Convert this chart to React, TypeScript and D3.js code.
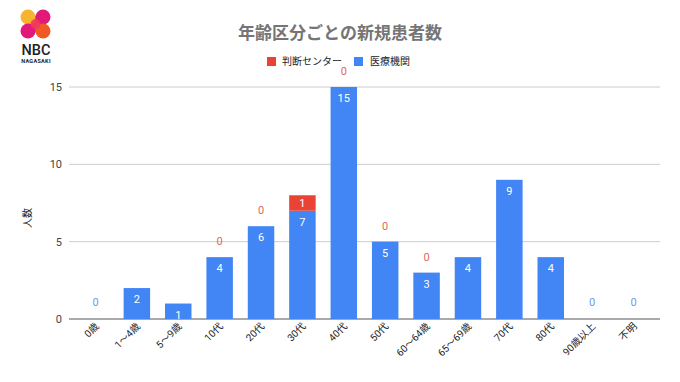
import React from "react";
import * as d3 from "d3";

const categories = ["0歳", "1〜4歳", "5〜9歳", "10代", "20代", "30代", "40代", "50代", "60〜64歳", "65〜69歳", "70代", "80代", "90歳以上", "不明"];
const hospital = [0, 2, 1, 4, 6, 7, 15, 5, 3, 4, 9, 4, 0, 0];
const center: (number | null)[] = [null, null, null, 0, 0, 1, 0, 0, 0, null, null, null, null, null];
const yTicks = [0, 5, 10, 15];
const seriesNames = ["判断センター", "医療機関"];

const W = 680, H = 382;
const BLUE = "#4285f4";
const RED = "#ea4335";
const FONT = "Roboto, 'Noto Sans CJK JP', sans-serif";

export default function App() {
  const x = d3.scaleBand<string>().domain(categories).range([69, 660]).paddingInner(0.36).paddingOuter(0.32);
  const y = d3.scaleLinear().domain([0, 15]).range([319, 87]);
  const bw = x.bandwidth();

  return (
    <svg width={W} height={H} style={{ position: "absolute", left: 0, top: 0, background: "#fff" }} fontFamily={FONT}>
      {/* logo */}
      <g>
        <path d="M28,17 L43,31" stroke="#f0454a" strokeWidth={12} />
        <circle cx={28} cy={17} r={7.5} fill="#f7b42e" />
        <circle cx={43} cy={17} r={7.5} fill="#e3197a" />
        <circle cx={28} cy={31} r={7.5} fill="#e3197a" />
        <circle cx={43} cy={31} r={7.5} fill="#f15a24" />
        <circle cx={35.5} cy={24} r={5} fill="#ef3a5d" opacity={0.85} />
        <text x={36} y={55} textAnchor="middle" fontSize={14.5} fontWeight={500} fill="#222" fontFamily="Roboto, sans-serif">NBC</text>
        <text x={36} y={63} textAnchor="middle" fontSize={5.5} fontWeight={700} fill="#222" letterSpacing={0.3} fontFamily="Roboto, sans-serif">NAGASAKI</text>
      </g>

      {/* title */}
      <text x={340} y={39} textAnchor="middle" fontSize={17} fontWeight={700} fill="#757575">年齢区分ごとの新規患者数</text>

      {/* legend */}
      <rect x={267} y={57} width={9} height={9} fill={RED} />
      <text x={282} y={65} fontSize={10} fill="#222">{seriesNames[0]}</text>
      <rect x={354} y={57} width={9} height={9} fill={BLUE} />
      <text x={370} y={65} fontSize={10} fill="#222">{seriesNames[1]}</text>

      {/* grid */}
      {yTicks.map((t) => (
        <g key={t}>
          <line x1={69} x2={660} y1={y(t)} y2={y(t)} stroke={t === 0 ? "#555" : "#ccc"} strokeWidth={1} />
          <text x={62} y={y(t) + 4} textAnchor="end" fontSize={11} fill="#444">{t}</text>
        </g>
      ))}

      <text transform={`translate(31,218) rotate(-90)`} textAnchor="middle" fontSize={10} fill="#222">人数</text>

      {/* bars */}
      {categories.map((c, i) => {
        const x0 = x(c)!;
        const cx = x0 + bw / 2;
        const h = hospital[i];
        const r = center[i];
        const els: React.ReactNode[] = [];
        if (h > 0) {
          els.push(<rect key="b" x={x0} y={y(h)} width={bw} height={y(0) - y(h)} fill={BLUE} />);
          els.push(<text key="bl" x={cx} y={y(h) + 15} textAnchor="middle" fontSize={11} fill="#fff">{h}</text>);
        } else {
          els.push(<text key="bl" x={cx} y={y(0) - 13} textAnchor="middle" fontSize={11} fill="#6a9bf2">{h}</text>);
        }
        if (r !== null) {
          if (r > 0) {
            els.push(<rect key="r" x={x0} y={y(h + r)} width={bw} height={y(h) - y(h + r)} fill={RED} />);
            els.push(<text key="rl" x={cx} y={y(h + r) + 12} textAnchor="middle" fontSize={11} fill="#fff">{r}</text>);
          } else {
            els.push(<text key="rl" x={cx} y={y(h) - 12} textAnchor="middle" fontSize={11} fill="#de6a5a">{r}</text>);
          }
        }
        return <g key={c}>{els}</g>;
      })}

      {/* x labels */}
      {categories.map((c) => {
        const cx = x(c)! + bw / 2;
        return (
          <text key={c} transform={`translate(${cx + 4},${327}) rotate(-45)`} textAnchor="end" fontSize={10} fill="#222">{c}</text>
        );
      })}
    </svg>
  );
}
